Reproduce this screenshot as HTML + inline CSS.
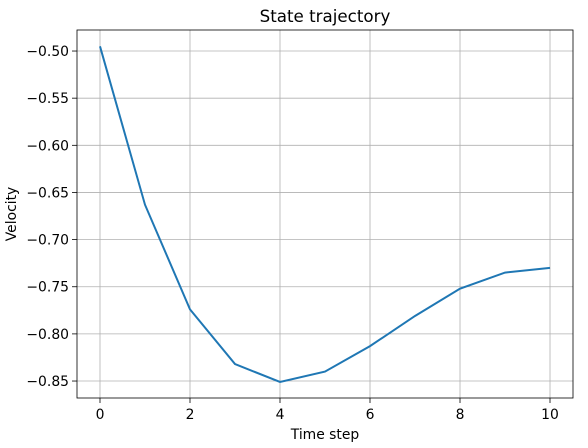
<!DOCTYPE html>
<html><head><meta charset="utf-8">
<style>
body{margin:0;background:#fff;font-family:"Liberation Sans","DejaVu Sans",sans-serif;}
svg text{font-family:"DejaVu Sans","Liberation Sans",sans-serif;}
</style></head>
<body>
<svg id="chart" width="588" height="443" xmlns="http://www.w3.org/2000/svg"></svg>
<script>
const steps=[0,1,2,3,4,5,6,7,8,9,10];
const velocity=[-0.495,-0.663,-0.774,-0.832,-0.851,-0.840,-0.813,-0.781,-0.752,-0.735,-0.730];
const xTicks=[0,2,4,6,8,10];
const yTicks=[-0.50,-0.55,-0.60,-0.65,-0.70,-0.75,-0.80,-0.85];
const L=77,R=573,T=30,B=398;
const xMin=-0.511,xMax=10.511,yMin=-0.868,yMax=-0.4777;
const sx=v=>L+(v-xMin)/(xMax-xMin)*(R-L);
const sy=v=>B-(v-yMin)/(yMax-yMin)*(B-T);
const svg=document.getElementById('chart');
const NS='http://www.w3.org/2000/svg';
function mk(tag,attrs,parent){const e=document.createElementNS(NS,tag);for(const k in attrs)e.setAttribute(k,attrs[k]);(parent||svg).appendChild(e);return e;}
const grid=mk('g',{});


xTicks.forEach(t=>{const x=sx(t);
 mk('line',{x1:x,x2:x,y1:T,y2:B,stroke:'#b0b0b0','stroke-width':0.8},grid);
 mk('line',{x1:x,x2:x,y1:B,y2:B+5,stroke:'#000','stroke-width':0.8});
 const tx=mk('text',{x:x,y:B+21,'text-anchor':'middle','font-size':13.9});tx.textContent=t;
 
 
});
yTicks.forEach(t=>{const y=sy(t);
 mk('line',{x1:L,x2:R,y1:y,y2:y,stroke:'#b0b0b0','stroke-width':0.8},grid);
 mk('line',{x1:L-5,x2:L,y1:y,y2:y,stroke:'#000','stroke-width':0.8});
 const tx=mk('text',{x:L-8,y:y+5,'text-anchor':'end','font-size':13.9});tx.textContent='\u2212'+Math.abs(t).toFixed(2);
 
 
});
const line=mk('polyline',{points:steps.map((s,i)=>sx(s)+','+sy(velocity[i])).join(' '),fill:'none',stroke:'#1f77b4','stroke-width':2});


const frame=mk('rect',{x:L,y:T,width:R-L,height:B-T,fill:'none',stroke:'#000','stroke-width':0.8});


const title=mk('text',{x:(L+R)/2,y:22,'text-anchor':'middle','font-size':16.7});title.textContent='State trajectory';


const xl=mk('text',{x:(L+R)/2,y:439,'text-anchor':'middle','font-size':13.9});xl.textContent='Time step';


const yl=mk('text',{x:16,y:(T+B)/2,'text-anchor':'middle','font-size':13.9,transform:'rotate(-90 16 '+(T+B)/2+')'});yl.textContent='Velocity';


</script>
</body></html>
